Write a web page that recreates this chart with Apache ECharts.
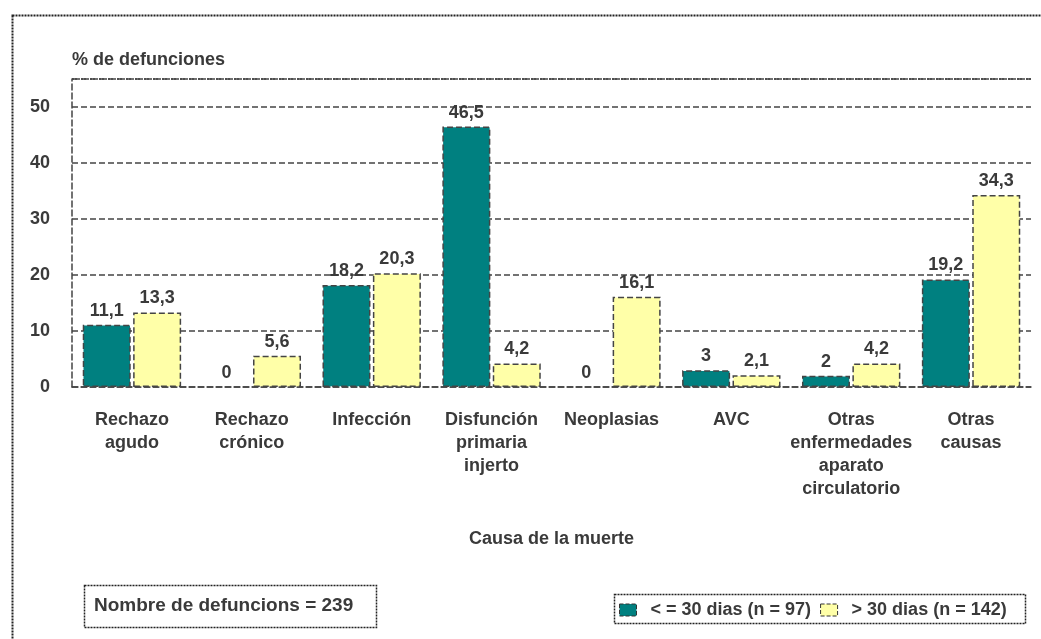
<!DOCTYPE html>
<html>
<head>
<meta charset="utf-8">
<script src="https://cdn.jsdelivr.net/npm/echarts@6/dist/echarts.min.js"></script>
<style>
  html, body { margin: 0; padding: 0; background: #fff; }
  #container { width: 1041px; height: 639px; }
</style>
</head>
<body>
<div id="container"></div>
<script type="text/javascript">
    // categorias (eje X) y valores de cada serie
    var causas = ['Rechazo\nagudo', 'Rechazo\ncrónico', 'Infección', 'Disfunción\nprimaria\ninjerto',
                  'Neoplasias', 'AVC', 'Otras\nenfermedades\naparato\ncirculatorio', 'Otras\ncausas'];
    var menos30 = [11.1, 0, 18.2, 46.5, 0, 3, 2, 19.2];
    var mas30 = [13.3, 5.6, 20.3, 4.2, 16.1, 2.1, 4.2, 34.3];
    var nombres = ['< = 30 dias (n = 97)', '> 30 dias (n = 142)'];

    var fuente = '"Liberation Sans Narrow", "Liberation Sans", Arial, sans-serif';
    var gris = '#3a3a3a';
    var fs = 18;

    var dom = document.getElementById("container");
    var myChart = echarts.init(dom);

    function coma(p) {
        return String(p.value).replace('.', ',');
    }

    var barStyle = function (color) {
        return {
            color: color,
            borderColor: '#444',
            borderWidth: 1.5,
            borderType: 'dashed'
        };
    };

    // las barras a 0 no se dibujan con borde
    function datos(arr) {
        return arr.map(function (v) {
            return v === 0 ? { value: v, itemStyle: { borderWidth: 0 } } : v;
        });
    }

    var etiqueta = { show: true, position: 'top', color: gris, fontSize: fs, fontWeight: 'bold', distance: 5, formatter: coma };

    var option = {
        animation: false,
        textStyle: { fontFamily: fuente },
        grid: { left: 72, right: 10, top: 79, bottom: 252 },
        graphic: [
            {
                type: 'rect', left: 10, top: 13,
                shape: { width: 1060, height: 660 },
                style: { fill: 'none', stroke: '#222', lineWidth: 2, lineDash: [2, 1] }
            },
            {
                type: 'rect', left: 82, top: 583,
                shape: { width: 292, height: 42 },
                style: { fill: 'none', stroke: '#222', lineWidth: 1.5, lineDash: [2, 1] }
            },
            {
                type: 'text', left: 94, top: 596,
                style: { text: 'Nombre de defuncions = 239', fill: gris, font: 'bold 19px ' + fuente }
            },
            {
                type: 'rect', left: 612, top: 592,
                shape: { width: 411, height: 29 },
                style: { fill: 'none', stroke: '#222', lineWidth: 1.5, lineDash: [2, 1] }
            },
            {
                type: 'line', shape: { x1: 72, y1: 79, x2: 1031, y2: 79 },
                style: { stroke: '#444', lineWidth: 1.5, lineDash: [2, 1] }
            }
        ],
        legend: {
            data: nombres,
            icon: 'rect',
            left: 619,
            top: 601,
            itemWidth: 17,
            itemHeight: 12,
            itemGap: 9,
            padding: 0,
            itemStyle: { borderColor: '#333', borderWidth: 1, borderType: 'dashed' },
            textStyle: { color: gris, fontSize: fs, fontWeight: 'bold', fontFamily: fuente, padding: [6, 0, 0, 9] }
        },
        xAxis: {
            type: 'category',
            data: causas,
            name: 'Causa de la muerte',
            nameLocation: 'middle',
            nameGap: 143,
            nameTextStyle: { color: gris, fontSize: fs, fontWeight: 'bold' },
            axisLine: { lineStyle: { color: '#444', width: 1.5, type: 'dashed' } },
            axisTick: { show: false },
            axisLabel: { color: gris, fontSize: fs, fontWeight: 'bold', lineHeight: 23, margin: 22, interval: 0 }
        },
        yAxis: {
            type: 'value',
            min: 0,
            max: 55,
            interval: 10,
            name: '% de defunciones',
            nameLocation: 'end',
            nameGap: 10,
            nameTextStyle: { color: gris, fontSize: fs, fontWeight: 'bold', align: 'left' },
            axisLine: { show: true, lineStyle: { color: '#444', width: 1.5, type: 'dashed' } },
            axisTick: { show: false },
            axisLabel: {
                color: gris, fontSize: fs, fontWeight: 'bold', margin: 22,
                formatter: function (v) { return v > 50 ? '' : v; }
            },
            splitLine: { lineStyle: { color: '#444', width: 1.5, type: 'dashed' } }
        },
        series: [
            {
                name: nombres[0],
                type: 'bar',
                data: datos(menos30),
                barWidth: 48,
                barGap: '5%',
                itemStyle: barStyle('#008080'),
                label: etiqueta
            },
            {
                name: nombres[1],
                type: 'bar',
                data: datos(mas30),
                barWidth: 48,
                itemStyle: barStyle('#ffffa8'),
                label: etiqueta
            }
        ]
    };

    myChart.setOption(option);
</script>
</body>
</html>
